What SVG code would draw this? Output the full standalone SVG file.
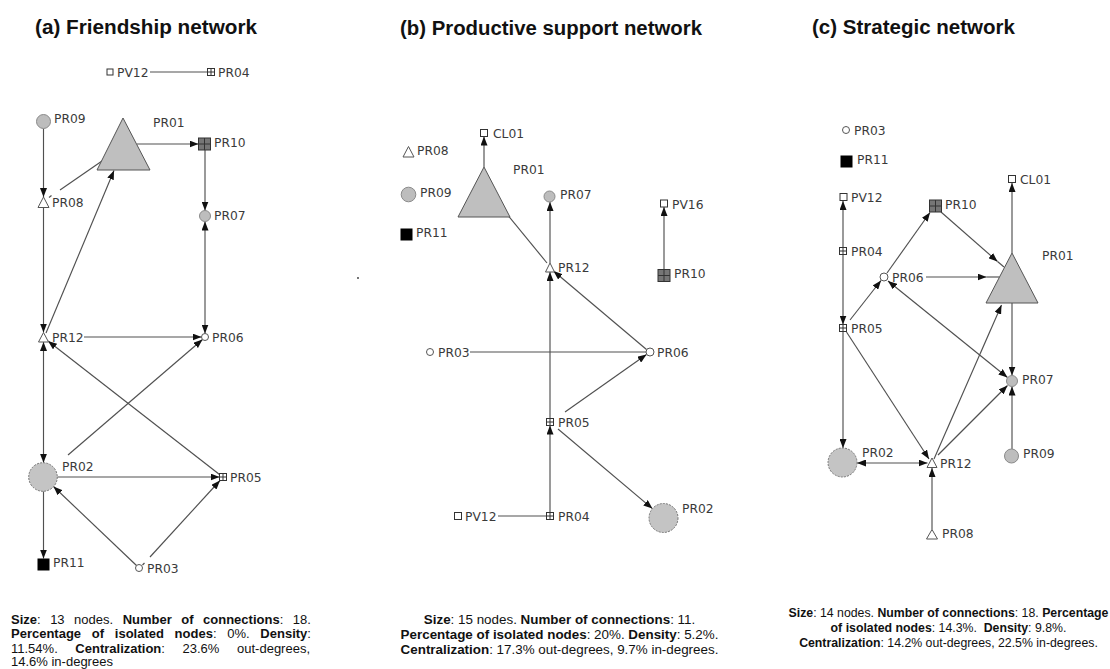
<svg xmlns="http://www.w3.org/2000/svg" width="1110" height="669" viewBox="0 0 1110 669">
<style>
  .title{font-family:"Liberation Sans",Arial,sans-serif;font-weight:bold;font-size:20px;fill:#111}
  .lbl{font-family:"DejaVu Sans",Verdana,sans-serif;font-size:12.3px;fill:#3a3a3a}
  .cap{font-family:"Liberation Sans",Arial,sans-serif;fill:#111}
  .b{font-weight:bold}
  .e{stroke:#505050;stroke-width:1.15;fill:none}
  .a{marker-end:url(#ah)}
  .ab{marker-start:url(#ah);marker-end:url(#ah)}
  .big{fill:#bfbfbf;stroke:#555;stroke-width:1}
  .tri{fill:#fff;stroke:#555;stroke-width:1}
  .sq{fill:#fff;stroke:#333;stroke-width:1}
  .dot{fill:#fff;stroke:#555;stroke-width:1}
  .gc{fill:#bdbdbd;stroke:#8a8a8a;stroke-width:1}
  .bc{fill:#c4c4c4;stroke:#777;stroke-width:1;stroke-dasharray:2 1.2}
  .blk{fill:#000}
  .dk{fill:#767676;stroke:#333;stroke-width:1}
</style>
<defs>
  <marker id="ah" viewBox="0 0 9 7" refX="9" refY="3.5" markerWidth="9" markerHeight="7" markerUnits="userSpaceOnUse" orient="auto-start-reverse">
    <path d="M0,0L9,3.5L0,7z" fill="#111"/>
  </marker>
  <!-- small white square with a cross -->
  <g id="grid"><rect x="-3.5" y="-3.5" width="7" height="7" class="sq"/><path d="M-3.5,0H3.5M0,-3.5V3.5" stroke="#333" stroke-width="1"/></g>
  <!-- dark gray 2x2 grid square -->
  <g id="dgrid"><rect x="-6" y="-6" width="12" height="12" class="dk"/><path d="M-6,0H6M0,-6V6" stroke="#333" stroke-width="1"/></g>
</defs>
<rect width="1110" height="669" fill="#fff"/>

<!-- titles -->
<text class="title" x="35" y="34" textLength="222" lengthAdjust="spacingAndGlyphs">(a) Friendship network</text>
<text class="title" x="400" y="35" textLength="302" lengthAdjust="spacingAndGlyphs">(b) Productive support network</text>
<text class="title" x="812" y="34" textLength="203" lengthAdjust="spacingAndGlyphs">(c) Strategic network</text>

<!-- ===== (a) Friendship network: connectors ===== -->
<g id="a-edges">
  <line class="e" x1="150" y1="72" x2="207" y2="72"/>
  <line class="e a" x1="43.5" y1="128.5" x2="43.5" y2="197"/>
  <line class="e a" x1="137" y1="144" x2="198.5" y2="144"/>
  <line class="e" x1="102" y1="161" x2="60" y2="190"/>
  <line class="e" x1="51.5" y1="195.5" x2="49" y2="197.5"/>
  <line class="e a" x1="46" y1="333" x2="114" y2="170.5"/>
  <line class="e a" x1="205" y1="150" x2="205" y2="210.5"/>
  <line class="e ab" x1="205" y1="221.5" x2="205" y2="333.5"/>
  <line class="e a" x1="43.5" y1="207.5" x2="43.5" y2="332.5"/>
  <line class="e ab" x1="43.5" y1="342" x2="43.5" y2="462.7"/>
  <line class="e a" x1="84" y1="337" x2="201.5" y2="337"/>
  <line class="e a" x1="68" y1="455" x2="202.5" y2="339.5"/>
  <line class="e a" x1="219.5" y1="474.5" x2="48" y2="341"/>
  <line class="e a" x1="57.3" y1="477" x2="219.5" y2="477"/>
  <line class="e a" x1="43.5" y1="491.3" x2="43.5" y2="558.5"/>
  <line class="e a" x1="136.5" y1="565.5" x2="53.5" y2="486.5"/>
  <line class="e a" x1="150" y1="557" x2="220" y2="480.5"/>
  <line class="e" x1="142.5" y1="565" x2="144.5" y2="563"/>
</g>

<!-- ===== (a) nodes ===== -->
<g id="a-PV12"><rect class="sq" x="107" y="69" width="6" height="6"/><text class="lbl" x="117" y="76.5">PV12</text></g>
<g id="a-PR04"><use href="#grid" x="211" y="72"/><text class="lbl" x="218" y="76.5">PR04</text></g>
<g id="a-PR09"><circle class="gc" cx="43.5" cy="121.5" r="7"/><text class="lbl" x="54" y="123">PR09</text></g>
<g id="a-PR01"><polygon class="big" points="123,118 150,170 97,170"/><text class="lbl" x="153" y="127">PR01</text></g>
<g id="a-PR10"><use href="#dgrid" x="204.5" y="144"/><text class="lbl" x="214" y="147">PR10</text></g>
<g id="a-PR08"><polygon class="tri" points="43.5,197 49,207.5 38,207.5"/><text class="lbl" x="52" y="206.5">PR08</text></g>
<g id="a-PR07"><circle class="gc" cx="205" cy="216" r="5.5"/><text class="lbl" x="214" y="220">PR07</text></g>
<g id="a-PR12"><polygon class="tri" points="43.5,332.5 48.5,342 38.5,342"/><text class="lbl" x="52" y="342">PR12</text></g>
<g id="a-PR06"><circle class="dot" cx="205" cy="337" r="3.5"/><text class="lbl" x="212" y="342">PR06</text></g>
<g id="a-PR02"><circle class="bc" cx="43" cy="477" r="14.3"/><text class="lbl" x="62" y="470.5">PR02</text></g>
<g id="a-PR05"><use href="#grid" x="223" y="477"/><text class="lbl" x="230" y="482">PR05</text></g>
<g id="a-PR11"><rect class="blk" x="37.5" y="558.5" width="12" height="12"/><text class="lbl" x="53" y="567">PR11</text></g>
<g id="a-PR03"><circle class="dot" cx="139" cy="568" r="3.5"/><text class="lbl" x="147" y="573">PR03</text></g>

<!-- (a) summary -->
<g id="a-caption" class="cap" font-size="13">
  <text x="11" y="623.5" word-spacing="5.9"><tspan class="b">Size</tspan>: 13 nodes. <tspan class="b">Number of connections</tspan>: 18.</text>
  <text x="11" y="638" word-spacing="7.1"><tspan class="b">Percentage of isolated nodes</tspan>: 0%. <tspan class="b">Density</tspan>:</text>
  <text x="11" y="652.5" word-spacing="14">11.54%. <tspan class="b">Centralization</tspan>: 23.6% out-degrees,</text>
  <text x="11" y="666">14.6% in-degrees</text>
</g>

<!-- ===== (b) Productive support network: connectors ===== -->
<g id="b-edges">
  <line class="e a" x1="484" y1="167" x2="484" y2="136.5"/>
  <line class="e a" x1="550" y1="263" x2="550" y2="202"/>
  <line class="e a" x1="664" y1="269.5" x2="664" y2="207"/>
  <line class="e" x1="506" y1="213" x2="547" y2="263"/>
  <line class="e a" x1="646.5" y1="349.5" x2="553.5" y2="271"/>
  <line class="e a" x1="550" y1="418.5" x2="550" y2="272"/>
  <line class="e a" x1="550" y1="512.5" x2="550" y2="425.5"/>
  <line class="e" x1="470" y1="352" x2="646" y2="352"/>
  <line class="e a" x1="565" y1="412" x2="646.5" y2="354.5"/>
  <line class="e a" x1="558" y1="429" x2="652.4" y2="508.6"/>
  <line class="e" x1="498" y1="516" x2="546.5" y2="516"/>
</g>
<circle cx="358" cy="278" r="0.9" fill="#333"/>

<!-- ===== (b) nodes ===== -->
<g id="b-CL01"><rect class="sq" x="480.5" y="129.5" width="7" height="7"/><text class="lbl" x="493" y="138">CL01</text></g>
<g id="b-PR08"><polygon class="tri" points="408.5,146.5 414,157 403,157"/><text class="lbl" x="417" y="155">PR08</text></g>
<g id="b-PR01"><polygon class="big" points="484,167 510,217 458,217"/><text class="lbl" x="513" y="174">PR01</text></g>
<g id="b-PR09"><circle class="gc" cx="408.5" cy="194.5" r="7.3"/><text class="lbl" x="420" y="197">PR09</text></g>
<g id="b-PR07"><circle class="gc" cx="549.5" cy="196.5" r="5.5"/><text class="lbl" x="560" y="199">PR07</text></g>
<g id="b-PV16"><rect class="sq" x="660.5" y="200" width="7" height="7"/><text class="lbl" x="672" y="209">PV16</text></g>
<g id="b-PR11"><rect class="blk" x="400.5" y="228.5" width="12" height="12"/><text class="lbl" x="416" y="237">PR11</text></g>
<g id="b-PR12"><polygon class="tri" points="550,263 554.5,272 545.5,272"/><text class="lbl" x="558" y="272">PR12</text></g>
<g id="b-PR10"><use href="#dgrid" x="664" y="275.5"/><text class="lbl" x="674" y="278">PR10</text></g>
<g id="b-PR03"><circle class="dot" cx="430" cy="352" r="3.5"/><text class="lbl" x="438" y="357">PR03</text></g>
<g id="b-PR06"><circle class="dot" cx="650" cy="352" r="4"/><text class="lbl" x="657" y="357">PR06</text></g>
<g id="b-PR05"><use href="#grid" x="550" y="422"/><text class="lbl" x="558" y="427">PR05</text></g>
<g id="b-PR04"><use href="#grid" x="550" y="516"/><text class="lbl" x="558" y="520.5">PR04</text></g>
<g id="b-PV12"><rect class="sq" x="454.5" y="512.5" width="7" height="7"/><text class="lbl" x="465" y="520.5">PV12</text></g>
<g id="b-PR02"><circle class="bc" cx="663.5" cy="518" r="14.5"/><text class="lbl" x="682" y="512.5">PR02</text></g>

<!-- (b) summary -->
<g id="b-caption" class="cap" font-size="13.4" text-anchor="middle">
  <text x="559.5" y="624"><tspan class="b">Size</tspan>: 15 nodes. <tspan class="b">Number of connections</tspan>: 11.</text>
  <text x="559.5" y="639"><tspan class="b">Percentage of isolated nodes</tspan>: 20%. <tspan class="b">Density</tspan>: 5.2%.</text>
  <text x="559.5" y="654"><tspan class="b">Centralization</tspan>: 17.3% out-degrees, 9.7% in-degrees.</text>
</g>

<!-- ===== (c) Strategic network: connectors ===== -->
<g id="c-edges">
  <line class="e a" x1="1012" y1="253" x2="1012" y2="183"/>
  <line class="e a" x1="843" y1="247.5" x2="843" y2="201"/>
  <line class="e a" x1="843" y1="255" x2="843" y2="324.5"/>
  <line class="e a" x1="843" y1="331.5" x2="843" y2="448"/>
  <line class="e a" x1="887" y1="273" x2="930" y2="212.5"/>
  <line class="e a" x1="941" y1="212" x2="997.5" y2="261.5"/>
  <line class="e" x1="997.5" y1="261.5" x2="1004" y2="267"/>
  <line class="e a" x1="926" y1="277" x2="986.5" y2="277"/>
  <line class="e" x1="986.5" y1="277" x2="999.5" y2="277"/>
  <line class="e a" x1="850" y1="320" x2="881" y2="280.5"/>
  <line class="e ab" x1="888" y1="281" x2="1007.5" y2="377.5"/>
  <line class="e a" x1="1012" y1="303" x2="1012" y2="375.5"/>
  <line class="e a" x1="1012" y1="449" x2="1012" y2="386.5"/>
  <line class="e a" x1="938" y1="455" x2="1007.5" y2="385.5"/>
  <line class="e a" x1="934" y1="459" x2="1001.5" y2="305"/>
  <line class="e a" x1="846.5" y1="332" x2="929" y2="459"/>
  <line class="e ab" x1="857" y1="463" x2="927.5" y2="463"/>
  <line class="e a" x1="932" y1="529.5" x2="932" y2="468"/>
</g>

<!-- ===== (c) nodes ===== -->
<g id="c-PR03"><circle class="dot" cx="846" cy="130" r="3.5"/><text class="lbl" x="854" y="135">PR03</text></g>
<g id="c-PR11"><rect class="blk" x="840.5" y="155.5" width="12" height="12"/><text class="lbl" x="857" y="164">PR11</text></g>
<g id="c-CL01"><rect class="sq" x="1008.5" y="175.5" width="7" height="7"/><text class="lbl" x="1020" y="184">CL01</text></g>
<g id="c-PV12"><rect class="sq" x="840" y="193.5" width="7" height="7"/><text class="lbl" x="851" y="202">PV12</text></g>
<g id="c-PR10"><use href="#dgrid" x="935.5" y="206"/><text class="lbl" x="945" y="208.5">PR10</text></g>
<g id="c-PR04"><use href="#grid" x="843" y="251"/><text class="lbl" x="851" y="256">PR04</text></g>
<g id="c-PR01"><polygon class="big" points="1012,253 1038,303 986,303"/><text class="lbl" x="1042" y="260">PR01</text></g>
<g id="c-PR06"><circle class="dot" cx="884" cy="277" r="4"/><text class="lbl" x="892" y="282">PR06</text></g>
<g id="c-PR05"><use href="#grid" x="843" y="328"/><text class="lbl" x="851" y="333">PR05</text></g>
<g id="c-PR07"><circle class="gc" cx="1012" cy="381" r="5.5"/><text class="lbl" x="1022" y="383.5">PR07</text></g>
<g id="c-PR02"><circle class="bc" cx="842.5" cy="462.5" r="14.5"/><text class="lbl" x="862" y="457">PR02</text></g>
<g id="c-PR12"><polygon class="tri" points="932,458 937,467.5 927,467.5"/><text class="lbl" x="940" y="467.5">PR12</text></g>
<g id="c-PR09"><circle class="gc" cx="1011.5" cy="456" r="7"/><text class="lbl" x="1023" y="458">PR09</text></g>
<g id="c-PR08"><polygon class="tri" points="932,529.5 937.5,539 926.5,539"/><text class="lbl" x="942" y="537.5">PR08</text></g>

<!-- (c) summary -->
<g id="c-caption" class="cap" font-size="12.3" text-anchor="middle">
  <text x="948.5" y="617"><tspan class="b">Size</tspan>: 14 nodes. <tspan class="b">Number of connections</tspan>: 18. <tspan class="b">Percentage</tspan></text>
  <text x="948.5" y="632" style="white-space:pre"><tspan class="b">of isolated nodes</tspan>: 14.3%.  <tspan class="b">Density</tspan>: 9.8%.</text>
  <text x="948.5" y="647"><tspan class="b">Centralization</tspan>: 14.2% out-degrees, 22.5% in-degrees.</text>
</g>
</svg>
